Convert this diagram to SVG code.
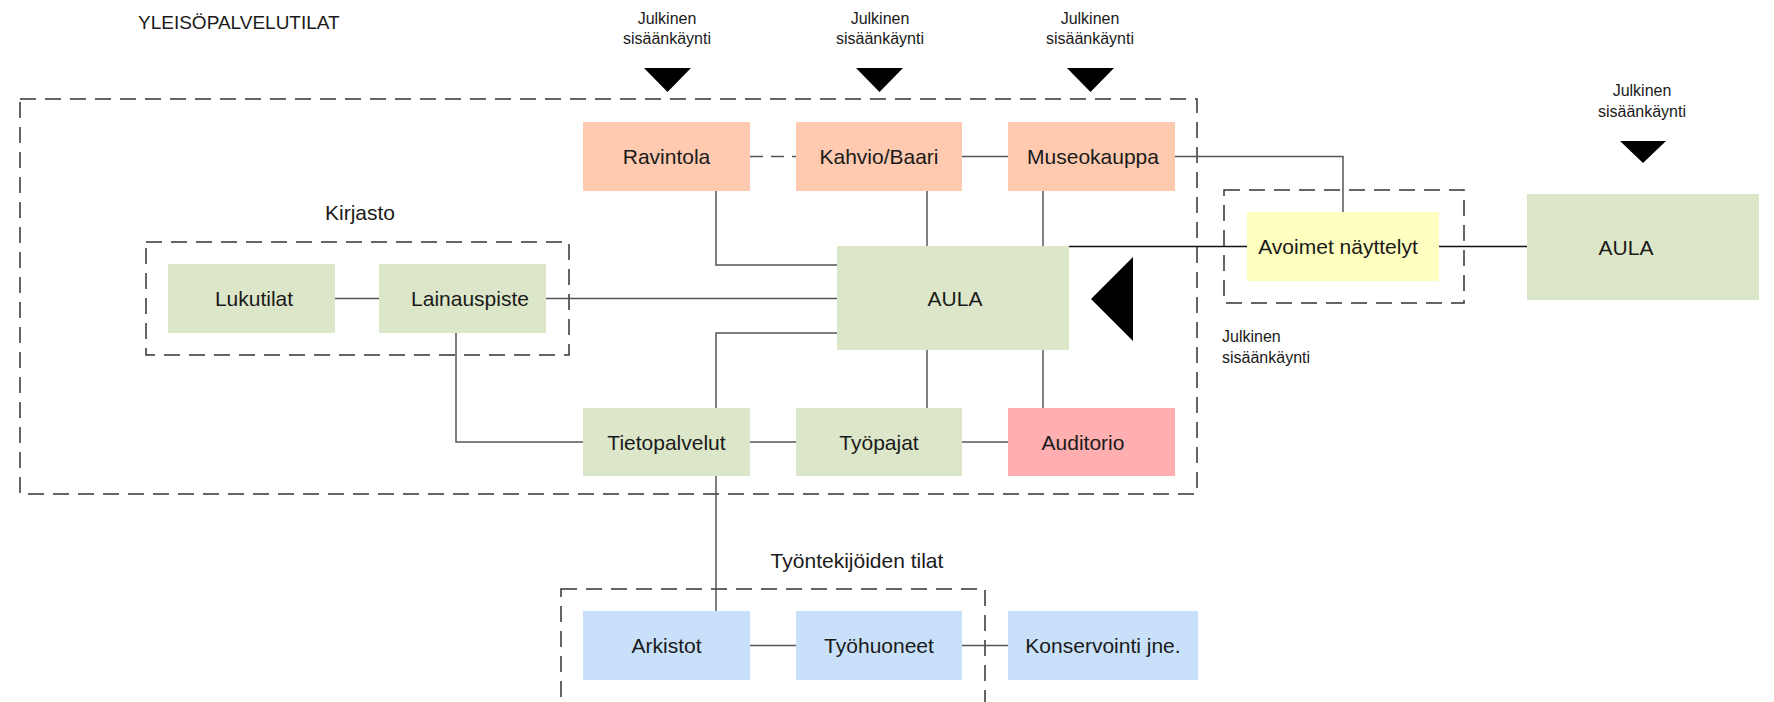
<svg xmlns="http://www.w3.org/2000/svg" width="1774" height="702" viewBox="0 0 1774 702">
<style>
text{font-family:"Liberation Sans",Arial,sans-serif;fill:#1a1a1a}
.lbl{font-size:21px;text-anchor:middle}
.sm{font-size:16px;text-anchor:middle}
.grp{fill:none;stroke:#333;stroke-width:1.5;stroke-dasharray:16 9}
.c{fill:none;stroke:#555;stroke-width:1.5}
.cd{fill:none;stroke:#555;stroke-width:1.5;stroke-dasharray:13 8}
.salmon{fill:#ffcab0}
.green{fill:#dce6c8}
.yellow{fill:#ffffbf}
.pink{fill:#ffafaf}
.blue{fill:#c8e0fa}
.tri{fill:#000}
</style>
<rect width="1774" height="702" fill="#fff"/>
<g id="groups">
<rect class="grp" x="20" y="99" width="1177" height="395"/>
<rect class="grp" x="146" y="242" width="423" height="113"/>
<rect class="grp" x="1224" y="190" width="240" height="113"/>
<rect class="grp" x="561" y="589" width="424" height="130"/>
<text x="138" y="29" style="font-size:19px">YLEISÖPALVELUTILAT</text>
<text class="lbl" x="360" y="220">Kirjasto</text>
<text class="lbl" x="857" y="568">Työntekijöiden tilat</text>
</g>
<g id="connectors">
<path class="cd" d="M750 156.5H796"/>
<path class="c" d="M962 156.5H1008"/>
<path class="c" d="M1175 156.5H1343V212"/>
<path class="c" d="M716 191V265H837"/>
<path class="c" d="M927 191V246"/>
<path class="c" d="M1043 191V246"/>
<path class="c" style="stroke:#111" d="M1069 246.5H1247"/>
<path class="c" style="stroke:#111" d="M1439 246.5H1527"/>
<path class="c" d="M335 298.5H379"/>
<path class="c" d="M546 298.5H837"/>
<path class="c" d="M456 333V442H583"/>
<path class="c" d="M837 333H716V408"/>
<path class="c" d="M750 442H796"/>
<path class="c" d="M962 442H1008"/>
<path class="c" d="M927 350V408"/>
<path class="c" d="M1043 350V408"/>
<path class="c" d="M716 476V611"/>
<path class="c" d="M750 645.5H796"/>
<path class="c" d="M962 645.5H1008"/>
</g>
<g id="entrances">
<text class="sm" x="667" y="24">Julkinen</text>
<text class="sm" x="667" y="44">sisäänkäynti</text>
<polygon class="tri" points="644,68 691,68 667.5,92"/>
<text class="sm" x="880" y="24">Julkinen</text>
<text class="sm" x="880" y="44">sisäänkäynti</text>
<polygon class="tri" points="856,68 903,68 879.5,92"/>
<text class="sm" x="1090" y="24">Julkinen</text>
<text class="sm" x="1090" y="44">sisäänkäynti</text>
<polygon class="tri" points="1067,68 1114,68 1090.5,92"/>
<text class="sm" x="1642" y="96">Julkinen</text>
<text class="sm" x="1642" y="117">sisäänkäynti</text>
<polygon class="tri" points="1620,141 1666,141 1643,163"/>
<polygon class="tri" points="1133,257 1133,341 1091,299"/>
<text x="1222" y="342" style="font-size:16px">Julkinen</text>
<text x="1222" y="363" style="font-size:16px">sisäänkäynti</text>
</g>
<g id="n-ravintola"><rect class="salmon" x="583" y="122" width="167" height="69"/><text class="lbl" x="666.5" y="164">Ravintola</text></g>
<g id="n-kahvio"><rect class="salmon" x="796" y="122" width="166" height="69"/><text class="lbl" x="879" y="164">Kahvio/Baari</text></g>
<g id="n-museokauppa"><rect class="salmon" x="1008" y="122" width="167" height="69"/><text class="lbl" x="1093" y="164">Museokauppa</text></g>
<g id="n-aula"><rect class="green" x="837" y="246" width="232" height="104"/><text class="lbl" x="955" y="305.5">AULA</text></g>
<g id="n-lukutilat"><rect class="green" x="168" y="264" width="167" height="69"/><text class="lbl" x="254" y="306">Lukutilat</text></g>
<g id="n-lainauspiste"><rect class="green" x="379" y="264" width="167" height="69"/><text class="lbl" x="470" y="306">Lainauspiste</text></g>
<g id="n-avoimet"><rect class="yellow" x="1247" y="212" width="192" height="69"/><text class="lbl" x="1338" y="254">Avoimet näyttelyt</text></g>
<g id="n-aula2"><rect class="green" x="1527" y="194" width="232" height="106"/><text class="lbl" x="1626" y="254.5">AULA</text></g>
<g id="n-tietopalvelut"><rect class="green" x="583" y="408" width="167" height="68"/><text class="lbl" x="666.5" y="449.5">Tietopalvelut</text></g>
<g id="n-tyopajat"><rect class="green" x="796" y="408" width="166" height="68"/><text class="lbl" x="879" y="449.5">Työpajat</text></g>
<g id="n-auditorio"><rect class="pink" x="1008" y="408" width="167" height="68"/><text class="lbl" x="1083" y="449.5">Auditorio</text></g>
<g id="n-arkistot"><rect class="blue" x="583" y="611" width="167" height="69"/><text class="lbl" x="666.5" y="653">Arkistot</text></g>
<g id="n-tyohuoneet"><rect class="blue" x="796" y="611" width="166" height="69"/><text class="lbl" x="879" y="653">Työhuoneet</text></g>
<g id="n-konservointi"><rect class="blue" x="1008" y="611" width="190" height="69"/><text class="lbl" x="1103" y="653">Konservointi jne.</text></g>
</svg>
